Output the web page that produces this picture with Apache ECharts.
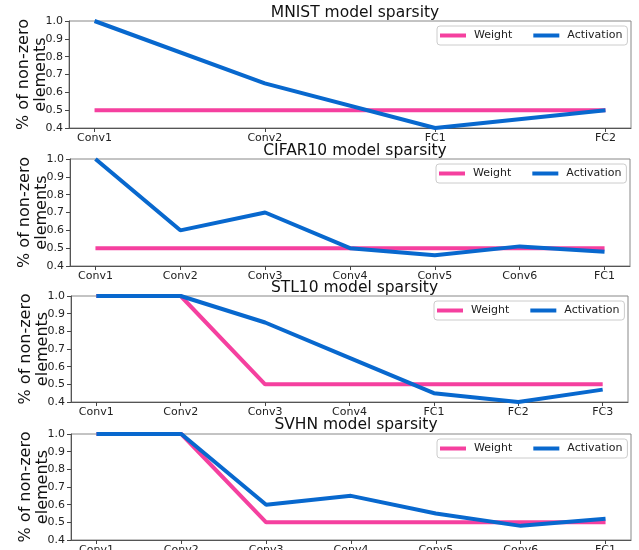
<!DOCTYPE html>
<html>
<head>
<meta charset="utf-8">
<script src="https://cdn.jsdelivr.net/npm/echarts@6/dist/echarts.min.js"></script>
<style>
  html, body { margin: 0; padding: 0; background: #fff; }
  #chart { width: 639px; height: 550px; }
</style>
</head>
<body>
<div id="chart"></div>
<script>
// Layer names for each model
const mnistLayers = ['Conv1', 'Conv2', 'FC1', 'FC2'];
const cifarLayers = ['Conv1', 'Conv2', 'Conv3', 'Conv4', 'Conv5', 'Conv6', 'FC1'];
const stlLayers   = ['Conv1', 'Conv2', 'Conv3', 'Conv4', 'FC1', 'FC2', 'FC3'];
const svhnLayers  = ['Conv1', 'Conv2', 'Conv3', 'Conv4', 'Conv5', 'Conv6', 'FC1'];

// Fraction of non-zero weights per layer
const mnistWeight = [0.5, 0.5, 0.5, 0.5];
const cifarWeight = [0.5, 0.5, 0.5, 0.5, 0.5, 0.5, 0.5];
const stlWeight   = [1.0, 1.0, 0.5, 0.5, 0.5, 0.5, 0.5];
const svhnWeight  = [1.0, 1.0, 0.5, 0.5, 0.5, 0.5, 0.5];

// Fraction of non-zero activations per layer
const mnistActivation = [1.0, 0.65, 0.4, 0.5];
const cifarActivation = [1.0, 0.6, 0.7, 0.5, 0.46, 0.51, 0.48];
const stlActivation   = [1.0, 1.0, 0.85, 0.65, 0.45, 0.4, 0.47];
const svhnActivation  = [1.0, 1.0, 0.6, 0.65, 0.55, 0.48, 0.52];

// Y-axis tick values
const yTicks = [0.4, 0.5, 0.6, 0.7, 0.8, 0.9, 1.0];

const panels = [
  { title: 'MNIST model sparsity',   layers: mnistLayers, weight: mnistWeight, act: mnistActivation,
    grid: { left: 69, top: 21, width: 562, height: 107 }, titleTop: 0,   legend: { left: 437, top: 26 } },
  { title: 'CIFAR10 model sparsity', layers: cifarLayers, weight: cifarWeight, act: cifarActivation,
    grid: { left: 70, top: 159, width: 560, height: 107 }, titleTop: 138, legend: { left: 436, top: 164 } },
  { title: 'STL10 model sparsity',   layers: stlLayers,   weight: stlWeight,   act: stlActivation,
    grid: { left: 71, top: 296, width: 557, height: 106 }, titleTop: 275, legend: { left: 434, top: 301 } },
  { title: 'SVHN model sparsity',    layers: svhnLayers,  weight: svhnWeight,  act: svhnActivation,
    grid: { left: 71, top: 434, width: 560, height: 106 }, titleTop: 412, legend: { left: 437, top: 439 } }
];

const PINK = '#F5409F';
const BLUE = '#0868CE';
const FONT = 'DejaVu Sans';

const option = {
  animation: false,
  backgroundColor: '#fff',
  textStyle: { fontFamily: FONT },
  title: [], grid: [], xAxis: [], yAxis: [], series: [], legend: []
};

panels.forEach((p, i) => {
  const n = p.layers.length;
  // 5% margin on each side of the layer positions
  const pad = 0.05 * (n - 1);
  const g = p.grid;
  const idx = p.layers.map((_, k) => k);

  option.title.push({
    text: p.title,
    left: g.left + g.width / 2,
    textAlign: 'center',
    top: p.titleTop,
    textStyle: { fontFamily: FONT, fontSize: 15.5, fontWeight: 'normal', color: '#111' }
  });

  option.grid.push({
    left: g.left, top: g.top, width: g.width, height: g.height,
    outerBoundsMode: 'none', containLabel: false,
    show: true, borderColor: '#888', borderWidth: 1, backgroundColor: 'transparent'
  });

  option.xAxis.push({
    type: 'value', gridIndex: i,
    min: -pad, max: (n - 1) + pad, interval: pad,
    axisLine: { show: true, onZero: false, lineStyle: { color: '#555', width: 1 } },
    axisTick: { show: true, length: 4, customValues: idx, lineStyle: { color: '#444' } },
    axisLabel: {
      customValues: idx,
      formatter: v => p.layers[Math.round(v)] || '',
      fontFamily: FONT, fontSize: 11, color: '#222', margin: 5
    },
    splitLine: { show: false }
  });

  option.yAxis.push({
    type: 'value', gridIndex: i,
    min: 0.4, max: 1.0, interval: 0.1,
    name: '% of non-zero\nelements',
    nameLocation: 'middle', nameRotate: 90, nameGap: 20,
    nameMoveOverlap: false,
    nameTextStyle: { fontFamily: FONT, fontSize: 16, color: '#111', lineHeight: 17 },
    axisLine: { show: true, onZero: false, lineStyle: { color: '#555', width: 1 } },
    axisTick: { show: true, length: 4, lineStyle: { color: '#444' } },
    axisLabel: {
      formatter: v => (yTicks.some(t => Math.abs(t - v) < 1e-6) ? v.toFixed(1) : ''),
      fontFamily: FONT, fontSize: 11, color: '#222', margin: 6
    },
    splitLine: { show: false }
  });

  option.series.push({
    name: 'Weight', type: 'line', xAxisIndex: i, yAxisIndex: i,
    data: p.weight.map((v, k) => [k, v]),
    symbol: 'none', color: PINK,
    lineStyle: { color: PINK, width: 4 }, z: 2
  });
  option.series.push({
    name: 'Activation', type: 'line', xAxisIndex: i, yAxisIndex: i,
    data: p.act.map((v, k) => [k, v]),
    symbol: 'none', color: BLUE,
    lineStyle: { color: BLUE, width: 4 }, z: 3
  });

  option.legend.push({
    left: p.legend.left, top: p.legend.top,
    orient: 'horizontal',
    data: [
      { name: 'Weight', icon: 'rect', itemStyle: { color: PINK } },
      { name: 'Activation', icon: 'rect', itemStyle: { color: BLUE } }
    ],
    itemWidth: 26, itemHeight: 4, itemGap: 21,
    padding: [4, 5, 4, 3],
    borderColor: '#ccc', borderWidth: 1, borderRadius: 3,
    backgroundColor: 'rgba(255,255,255,0.8)',
    textStyle: { fontFamily: FONT, fontSize: 11, color: '#222', padding: [0, 0, 0, 3] },
    selectedMode: false
  });
});

const chart = echarts.init(document.getElementById('chart'), null, { renderer: 'canvas' });
chart.setOption(option);
</script>
</body>
</html>
